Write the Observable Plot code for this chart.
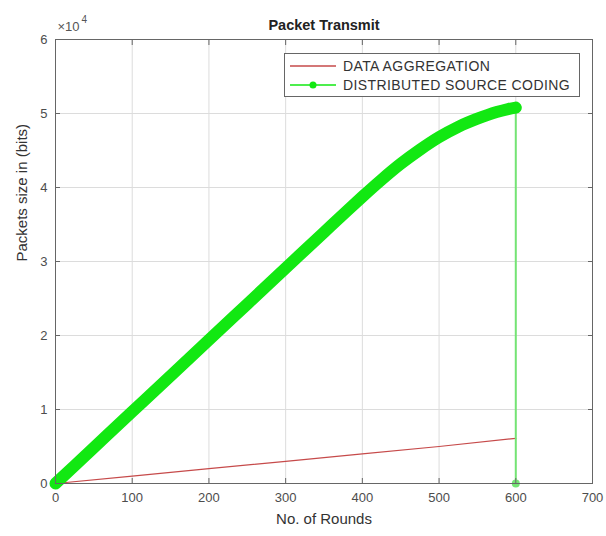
<!DOCTYPE html>
<html>
<head>
<meta charset="utf-8">
<script src="https://cdn.jsdelivr.net/npm/d3@7"></script>
<script src="https://cdn.jsdelivr.net/npm/@observablehq/plot@0.6"></script>
<style>
  html, body { margin: 0; padding: 0; background: #fff; }
  #wrap { position: relative; width: 606px; height: 536px; font-family: "Liberation Sans", Arial, sans-serif; }
  #legend { position: absolute; left: 284px; top: 53px; width: 296px; height: 44px; border: 1px solid #666; background: #fff; box-sizing: border-box; }
  .row { position: absolute; left: 0; height: 18px; display: flex; align-items: center; }
  .row svg { margin-left: 4px; }
  .row span { margin-left: 6px; font-size: 14px; letter-spacing: 0.4px; color: #333; white-space: nowrap; }
</style>
</head>
<body>
<div id="wrap"></div>
<script>
// ---- data ----
const xTicks = [0, 100, 200, 300, 400, 500, 600, 700];
const yTicks = [0, 10000, 20000, 30000, 40000, 50000, 60000];

// DATA AGGREGATION (red)
const daRounds = [0, 100, 200, 300, 400, 500, 600];
const daBits   = [0, 1000, 2000, 3000, 4000, 5000, 6100];

// DISTRIBUTED SOURCE CODING (green)
const dscRounds = [0, 50, 100, 150, 200, 250, 300, 350, 380, 400, 425, 450, 475, 500, 525, 550, 575, 590, 600];
const dscBits   = [0, 4850, 9700, 14550, 19400, 24250, 29100, 33950, 36850, 38750, 41050, 43200, 45100, 46800, 48200, 49300, 50200, 50600, 50800];
// final drop of the green series
const dscEndRounds = [600, 600];
const dscEndBits   = [50800, 0];

const seriesNames = ["DATA AGGREGATION", "DISTRIBUTED SOURCE CODING"];
const titleText = "Packet Transmit";
const xLabel = "No. of Rounds";
const yLabel = "Packets size in (bits)";
const expBase = "×10";
const expPower = "4";

const RED = "#c64a4a";
const GREEN = "#12e812";
const GREEN_LIGHT = "#74e474";

const chart = Plot.plot({
  width: 606,
  height: 536,
  marginLeft: 55,
  marginRight: 14,
  marginTop: 39,
  marginBottom: 53,
  style: { fontFamily: "Liberation Sans, Arial, sans-serif", fontSize: "13px", background: "#fff" },
  x: { domain: [0, 700] },
  y: { domain: [0, 60000] },
  marks: [
    Plot.gridX(xTicks, { stroke: "#dcdcdc", strokeOpacity: 1 }),
    Plot.gridY(yTicks, { stroke: "#dcdcdc", strokeOpacity: 1 }),
    Plot.line(daBits, { x: daRounds, y: daBits, stroke: RED, strokeWidth: 1.2 }),
    Plot.line(dscEndBits, { x: dscEndRounds, y: dscEndBits, stroke: GREEN_LIGHT, strokeWidth: 2 }),
    Plot.dot([dscEndBits[1]], { x: [dscEndRounds[1]], y: d => d, r: 4, fill: GREEN_LIGHT, stroke: null }),
    Plot.line(dscBits, { x: dscRounds, y: dscBits, curve: "monotone-x", stroke: GREEN, strokeWidth: 12, strokeLinecap: "round", strokeLinejoin: "round" }),
    Plot.frame({ stroke: "#666", strokeWidth: 1 }),
    Plot.axisX(xTicks, { anchor: "bottom", tickSize: -5, tickPadding: 14, stroke: "#666", fill: "#4d4d4d", label: null }),
    Plot.axisX(xTicks, { anchor: "top", tickSize: -5, tickFormat: () => "", stroke: "#666", label: null }),
    Plot.axisY(yTicks, { anchor: "left", tickSize: -5, tickPadding: 13, tickFormat: d => d / 1e4, stroke: "#666", fill: "#4d4d4d", label: null }),
    Plot.axisY(yTicks, { anchor: "right", tickSize: -5, tickFormat: () => "", stroke: "#666", label: null }),
    Plot.text([titleText], { text: d => d, frameAnchor: "top", dy: -20, fontWeight: "bold", fontSize: 14.5, fill: "#222" }),
    Plot.text([expBase], { text: d => d, frameAnchor: "top-left", textAnchor: "start", dx: 2, dy: -18, fontSize: 13, fill: "#555" }),
    Plot.text([expPower], { text: d => d, frameAnchor: "top-left", textAnchor: "start", dx: 26, dy: -24, fontSize: 10, fill: "#555" }),
    Plot.text([xLabel], { text: d => d, frameAnchor: "bottom", dy: 40, fontSize: 15, fill: "#333" }),
    Plot.text([yLabel], { text: d => d, frameAnchor: "left", rotate: -90, dx: -33, fontSize: 15, fill: "#333" })
  ]
});

const wrap = document.getElementById("wrap");
wrap.appendChild(chart);

// legend
const legend = document.createElement("div");
legend.id = "legend";
const rows = [
  { name: seriesNames[0], color: RED, marker: false, top: 3 },
  { name: seriesNames[1], color: GREEN, marker: true, top: 22 }
];
for (const r of rows) {
  const row = document.createElement("div");
  row.className = "row";
  row.style.top = r.top + "px";
  row.innerHTML =
    `<svg width="48" height="18"><line x1="1" x2="47" y1="9" y2="9" stroke="${r.color}" stroke-width="1.3"/>` +
    (r.marker ? `<circle cx="24" cy="9" r="3.5" fill="${r.color}"/>` : "") +
    `</svg><span>${r.name}</span>`;
  legend.appendChild(row);
}
wrap.appendChild(legend);
</script>
</body>
</html>
